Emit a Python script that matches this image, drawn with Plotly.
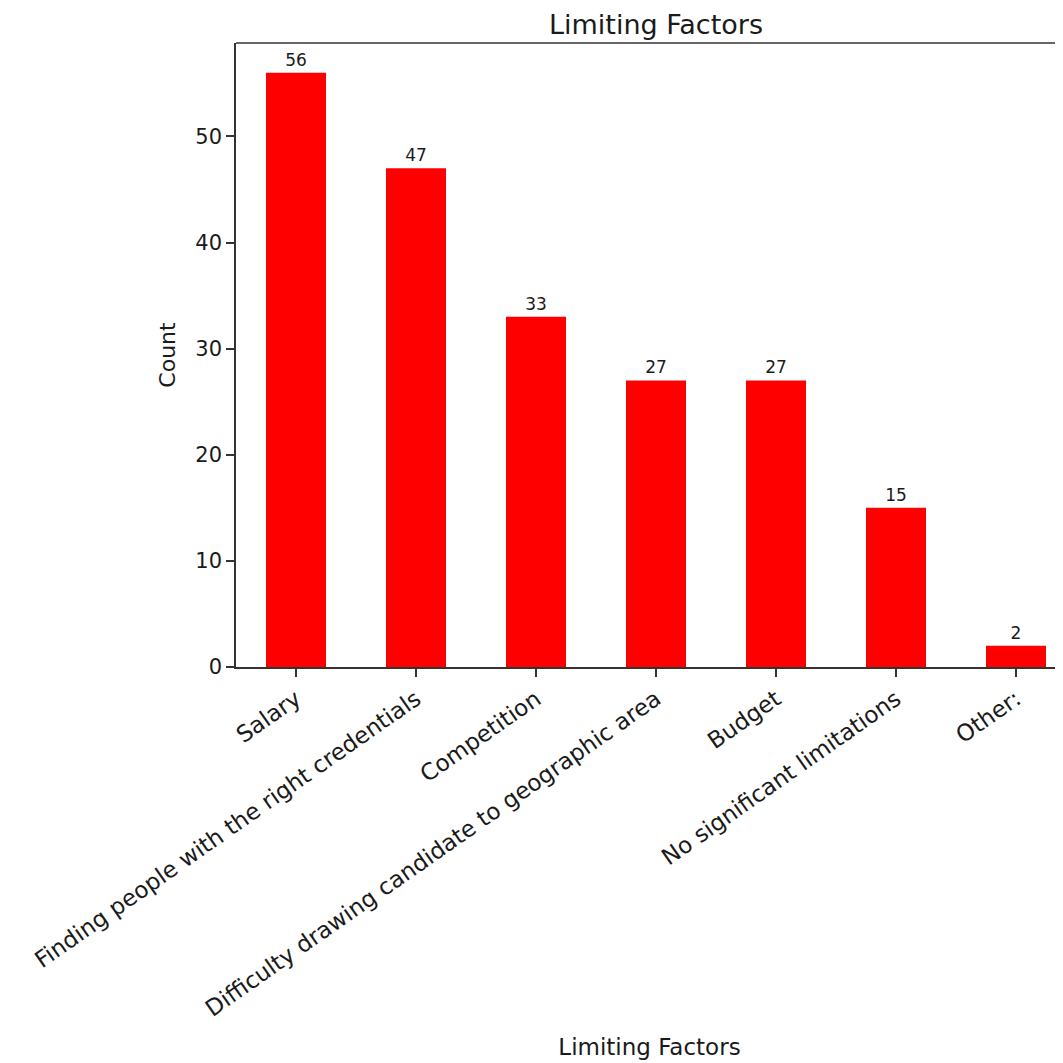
import plotly.graph_objects as go

factors = [
    "Salary",
    "Finding people with the right credentials",
    "Competition",
    "Difficulty drawing candidate to geographic area",
    "Budget",
    "No significant limitations",
    "Other:",
]
counts = [56, 47, 33, 27, 27, 15, 2]
y_ticks = [0, 10, 20, 30, 40, 50]

FONT = "DejaVu Sans"
INK = "#1a1a1a"

# the page adds an 8px body margin, so the figure is 8px smaller than the window
W = H = 1055


def drawChart():
    fig = go.Figure()
    fig.add_trace(go.Bar(
        x=list(range(len(factors))), y=counts, width=0.5,
        marker=dict(color="#ff0000", line=dict(width=0)),
        text=[str(c) for c in counts], textposition="outside",
        textfont=dict(family=FONT, size=17, color=INK),
        cliponaxis=False,
    ))

    fig.update_layout(
        width=W, height=H,
        margin=dict(l=228, r=0, t=35, b=396),
        paper_bgcolor="white", plot_bgcolor="white",
        showlegend=False,
        font=dict(family=FONT, color=INK),
        title=dict(text="Limiting Factors", x=(656 - 236) / 827, xref="paper", xanchor="center",
                   y=1 - 17 / H, yanchor="middle", font=dict(size=27, color=INK)),
    )
    fig.update_xaxes(
        range=[-0.5, -0.5 + 827 / 120],
        tickmode="array", tickvals=list(range(len(factors))), ticktext=factors,
        tickangle=-35, tickfont=dict(size=23, color=INK),
        ticks="outside", ticklen=8, tickwidth=1.5, tickcolor="#333",
        showline=True, linecolor="#333", linewidth=1.5,
        showgrid=False, zeroline=False,
        title=dict(text="Limiting Factors", font=dict(size=23, color=INK), standoff=18),
    )
    fig.update_yaxes(
        range=[0, 58.8],
        tickmode="array", tickvals=y_ticks,
        tickfont=dict(size=21, color=INK),
        ticks="outside", ticklen=8, tickwidth=1.5, tickcolor="#333",
        showline=True, linecolor="#333", linewidth=1.5,
        showgrid=False, zeroline=False,
        title=dict(text="Count", font=dict(size=22, color=INK), standoff=14),
    )
    # top spine only; the right side of the frame is cut off in the original
    fig.add_shape(type="line", xref="paper", yref="paper", x0=0, x1=1, y0=1, y1=1,
                  line=dict(color="#333", width=1.5))
    fig.write_html("out.html")


if __name__ == "__main__":
    drawChart()
